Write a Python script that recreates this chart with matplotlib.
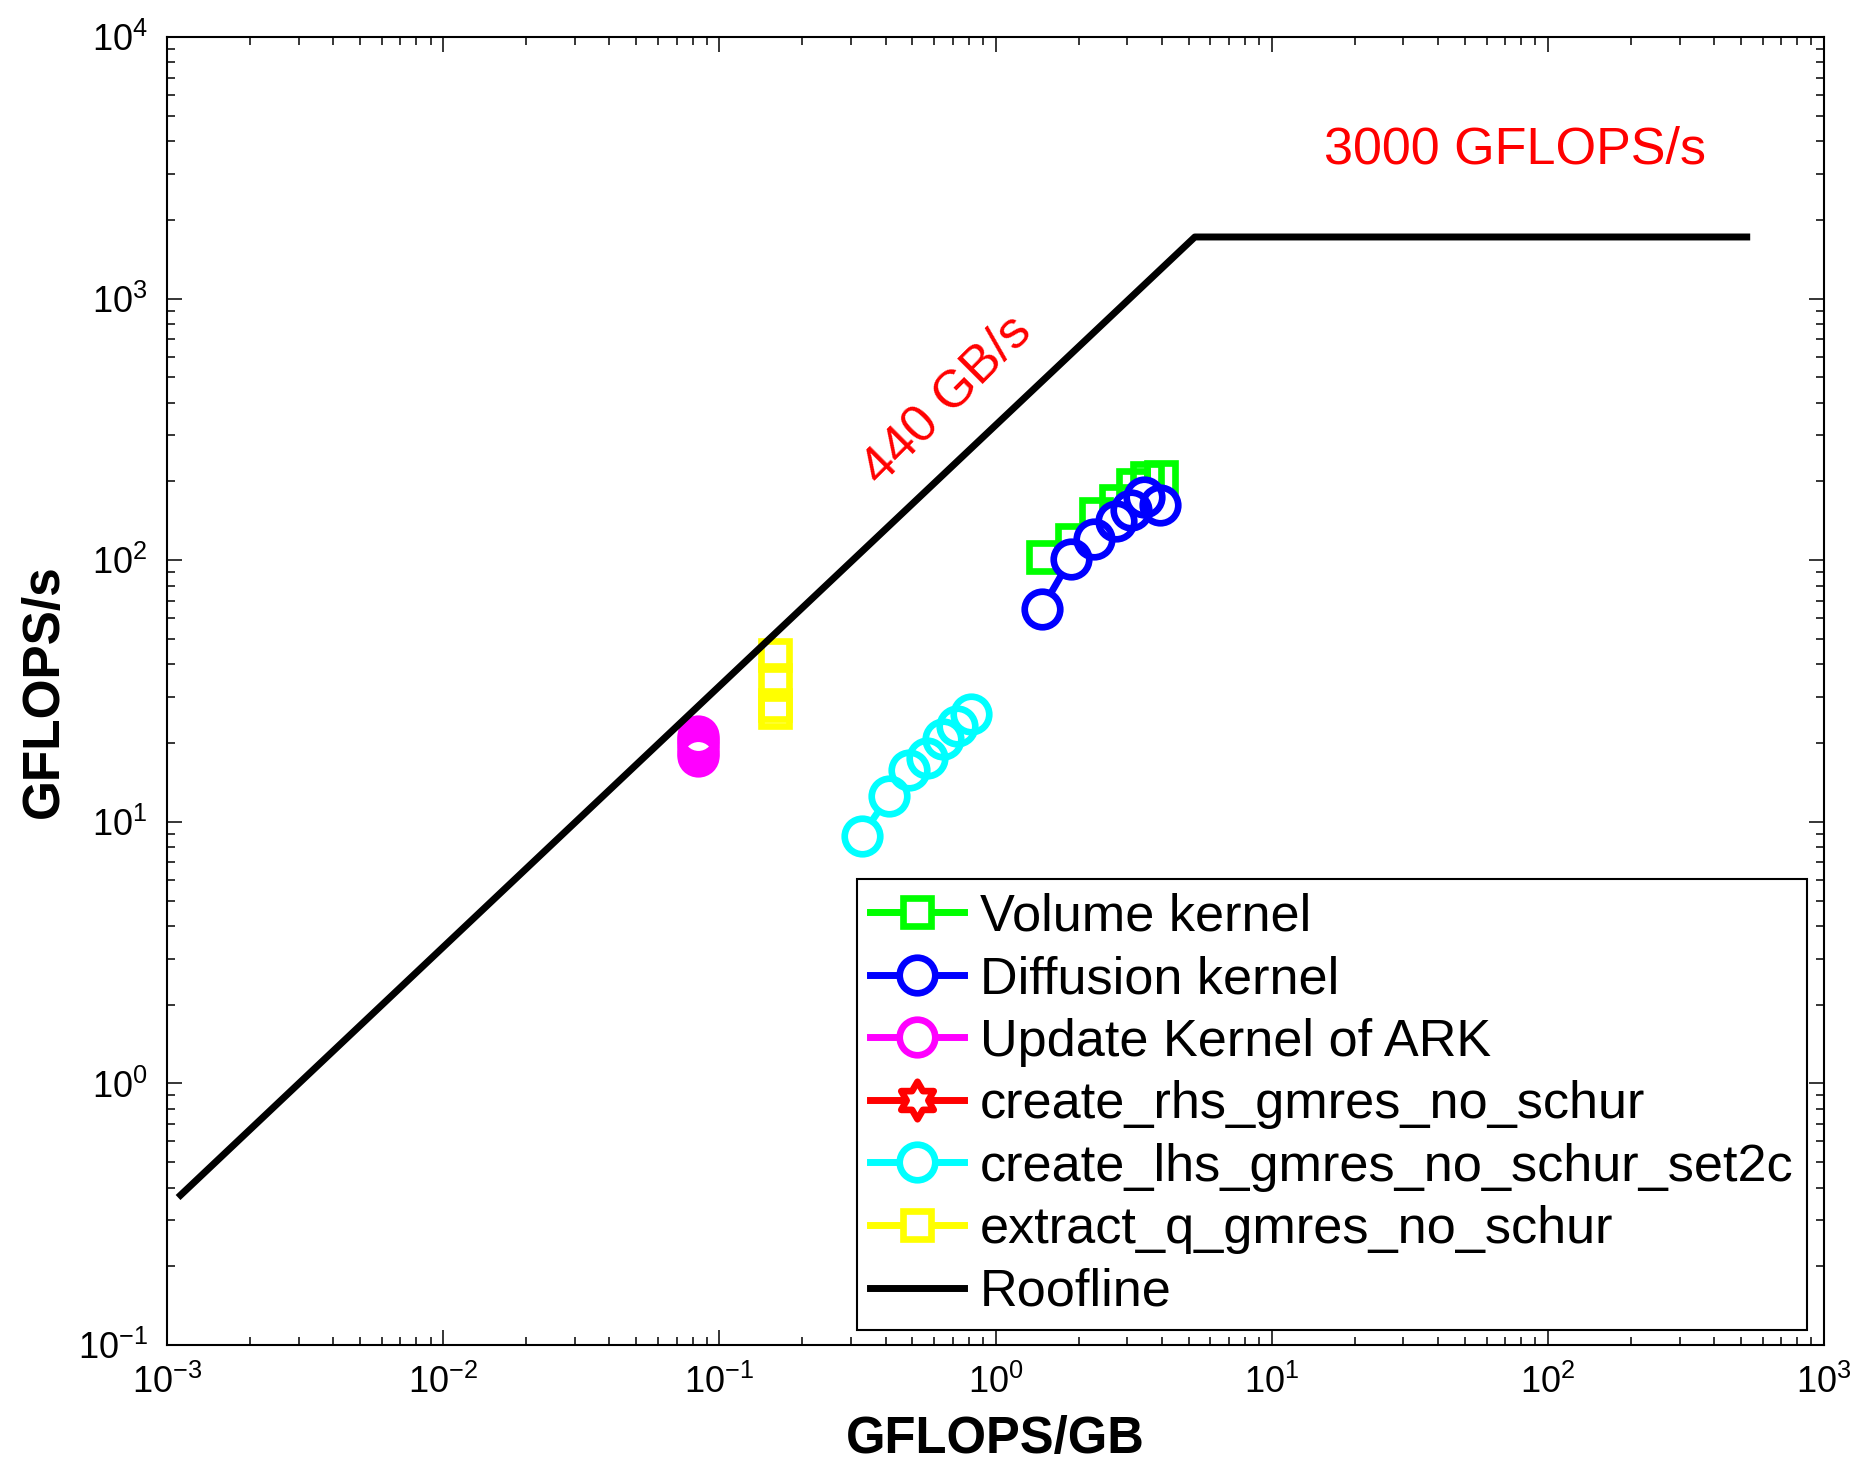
import numpy as np
import matplotlib
matplotlib.use('Agg')
import matplotlib.pyplot as plt
from matplotlib.lines import Line2D
from matplotlib.path import Path
from matplotlib.ticker import NullFormatter

plt.rcParams['font.family'] = ['Liberation Sans', 'DejaVu Sans']
plt.rcParams['mathtext.fontset'] = 'custom'
plt.rcParams['mathtext.rm'] = 'Liberation Sans'
plt.rcParams['mathtext.it'] = 'Liberation Sans:italic'
plt.rcParams['mathtext.bf'] = 'Liberation Sans:bold'
plt.rcParams['axes.unicode_minus'] = False

# ---------------- data ----------------
volume_x = [1.48, 1.89, 2.31, 2.73, 3.14, 3.55, 3.96]
volume_y = [103, 119.5, 150, 169, 194, 206, 208]
diffusion_x = [1.47, 1.87, 2.28, 2.72, 3.10, 3.45, 3.95]
diffusion_y = [65, 101, 121, 141, 156, 174, 162]
update_x = [0.084, 0.084, 0.084, 0.084, 0.084, 0.084, 0.084]
update_y = [17.9, 18.4, 19.0, 19.6, 20.2, 20.7, 21.2]
rhs_x = []
rhs_y = []
lhs_x = [0.328, 0.410, 0.485, 0.566, 0.643, 0.727, 0.813]
lhs_y = [8.85, 12.5, 15.8, 17.5, 20.7, 23.2, 25.8]
extract_x = [0.159, 0.159, 0.159, 0.159]
extract_y = [26.3, 28.0, 34.8, 43.4]
roof_x = [0.00112, 5.27, 525]
roof_y = [0.374, 1720, 1720]

labels = ['Volume kernel', 'Diffusion kernel', 'Update Kernel of ARK',
          'create_rhs_gmres_no_schur', 'create_lhs_gmres_no_schur_set2c',
          'extract_q_gmres_no_schur', 'Roofline']

# Star of David marker
ang_o = np.deg2rad(90 + 60 * np.arange(6))
ang_i = np.deg2rad(120 + 60 * np.arange(6))
verts = []
for ao, ai in zip(ang_o, ang_i):
    verts.append((np.cos(ao), np.sin(ao)))
    verts.append((np.cos(ai) / np.sqrt(3), np.sin(ai) / np.sqrt(3)))
verts.append(verts[0])
codes = [Path.MOVETO] + [Path.LINETO] * 11 + [Path.CLOSEPOLY]
hexagram = Path(verts, codes)

LW = 5.0
MEW = 4.8
series = [
    (volume_x, volume_y, (0, 1, 0), 's', 20.7),
    (diffusion_x, diffusion_y, (0, 0, 1), 'o', 25.6),
    (update_x, update_y, (1, 0, 1), 'o', 25.6),
    (rhs_x, rhs_y, (1, 0, 0), hexagram, 27),
    (lhs_x, lhs_y, (0, 1, 1), 'o', 25.6),
    (extract_x, extract_y, (1, 1, 0), 's', 20.7),
]

fig = plt.figure(figsize=(18.62, 14.61), dpi=100)
ax = fig.add_axes([167 / 1862, 1 - 1345 / 1461, (1824 - 167) / 1862, (1345 - 37) / 1461])
ax.set_xscale('log')
ax.set_yscale('log')

handles = []
for i, (x, y, c, m, ms) in enumerate(series):
    z = 3 + 3 * i
    ax.plot(x, y, color=c, lw=LW, zorder=z)
    ax.plot(x, y, ls='none', marker=m, ms=ms, mfc='white', mec='none', zorder=z + 1)
    ax.plot(x, y, ls='none', marker=m, ms=ms, mfc='none', mec=c, mew=MEW, zorder=z + 2)
    handles.append(Line2D([], [], color=c, lw=LW, marker=m, ms=ms,
                          mfc='white', mec=c, mew=MEW))

ax.plot(roof_x, roof_y, color='black', lw=LW, zorder=40)
handles.append(Line2D([], [], color='black', lw=LW))

ax.set_xlim(1e-3, 1e3)
ax.set_ylim(1e-1, 1e4)

ax.text(15.5, 3700, '3000 GFLOPS/s', color='red', fontsize=37.5,
        ha='left', va='center')
ax.text(0.664, 410, '440 GB/s', color='red', fontsize=37.5, rotation=45,
        ha='center', va='center', rotation_mode='anchor')

ax.set_xlabel('GFLOPS/GB', fontsize=36.5, fontweight='bold', labelpad=10)
ax.set_ylabel('GFLOPS/s', fontsize=37, fontweight='bold', labelpad=6)

ax.xaxis.set_minor_formatter(NullFormatter())
ax.yaxis.set_minor_formatter(NullFormatter())
ax.tick_params(which='both', direction='in', top=True, right=True,
               labelsize=26, width=1.1, pad=14)
ax.tick_params(which='major', length=11)
ax.tick_params(which='minor', length=5.8, labelleft=False, labelbottom=False)
for s in ax.spines.values():
    s.set_linewidth(1.5)

leg = ax.legend(handles, labels, loc='lower right',
                bbox_to_anchor=(0.9895, 0.0115), borderaxespad=0,
                fontsize=37.6, handlelength=1.8, handletextpad=0.3,
                labelspacing=0.26, borderpad=0.25, frameon=True,
                fancybox=False, edgecolor='black', framealpha=1)
leg.get_frame().set_linewidth(1.5)
leg.set_zorder(50)

fig.savefig('out.png', dpi=100)
